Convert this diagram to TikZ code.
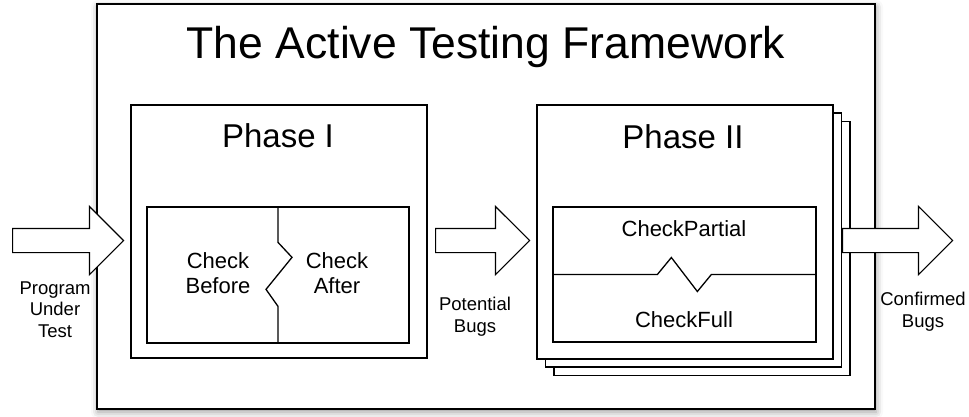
\documentclass[tikz,border=0pt]{standalone}
\usepackage{fontspec}
\setmainfont{Liberation Sans}
\usetikzlibrary{shapes.arrows,shadows.blur,positioning}

\tikzset{
  box/.style={draw, line width=1.3pt, fill=white, inner sep=0pt},
  bigarrow/.style={single arrow, draw, fill=white, line width=1.2pt,
    inner sep=11.5pt, single arrow head extend=22pt, anchor=tail},
  lbl/.style={anchor=base, align=center, font=\fontsize{18.5}{21.5}\selectfont},
  checklbl/.style={anchor=base, align=center, font=\fontsize{22}{25}\selectfont},
  phaselbl/.style={anchor=base, font=\fontsize{33}{36}\selectfont},
}

\begin{document}
\begin{tikzpicture}[x=1pt,y=-1pt]
  \useasboundingbox (0,0) rectangle (969,416);

  % the framework
  \node(frame) at (486,206.5) [box, line width=1.8pt, minimum width=778pt, minimum height=405pt,
    blur shadow={shadow xshift=1pt, shadow yshift=-3pt, shadow blur radius=7pt}] {};
  \node(title) at (486,58) [anchor=base, font=\fontsize{44.5}{50}\selectfont] {The Active Testing Framework};

  % phase one
  \node(phaseA) at (279,231.5) [box, minimum width=296pt, minimum height=253pt] {};
  \node(phaseAname) at (278,147) [phaselbl] {Phase I};
  \node(checkA) at (278,275) [box, minimum width=262pt, minimum height=136pt] {};
  \draw[line width=1.3pt] (checkA.north) -- ++(0,36) -- ++(14,15) -- ++(-26,32) -- ++(12,17) -- (checkA.south);
  \node(before) at (218,293) [checklbl] {Check\\Before};
  \node(after) at (337,293) [checklbl] {Check\\After};

  % phase two, a stack of runs
  \node(phaseBc) at (702,248.5) [box, minimum width=296pt, minimum height=254pt] {};
  \node(phaseBb) at (693.5,240) [box, minimum width=296pt, minimum height=254pt] {};
  \node(phaseB) at (685,232) [box, minimum width=296pt, minimum height=254pt] {};
  \node(phaseBname) at (683,148) [phaselbl] {Phase II};
  \node(checkB) at (684.5,274.5) [box, minimum width=263pt, minimum height=135pt] {};
  \draw[line width=1.3pt] (checkB.west) -- ++(105,0) -- ++(14,-17) -- ++(26,34) -- ++(14,-17) -- (checkB.east);
  \node(partial) at (684,236) [checklbl] {CheckPartial};
  \node(full) at (684,327) [checklbl] {CheckFull};

  % inputs and outputs
  \node(inarrow) at (12,240.5) [bigarrow, minimum height=111pt] {};
  \node(midarrow) at (435,240.5) [bigarrow, minimum height=94pt] {};
  \node(outarrow) at (842,240.5) [bigarrow, minimum height=110pt] {};
  \node(program) at (55,337) [lbl] {Program\\Under\\Test};
  \node(potential) at (475,332) [lbl] {Potential\\Bugs};
  \node(confirmed) at (923,327) [lbl] {Confirmed\\Bugs};
\end{tikzpicture}
\end{document}
